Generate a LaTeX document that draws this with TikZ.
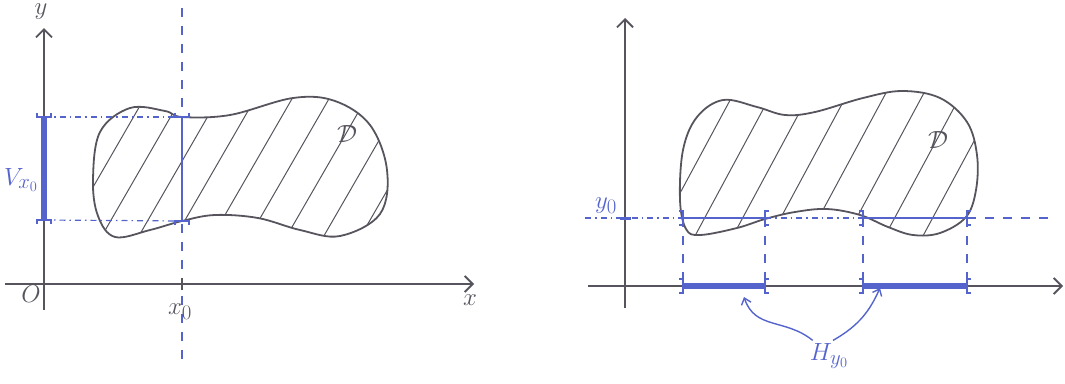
\documentclass[tikz,border=0pt]{standalone}
\usetikzlibrary{arrows.meta}
\definecolor{pen}{RGB}{88,84,94}
\definecolor{ink}{RGB}{85,100,205}
\begin{document}
\begin{tikzpicture}[x=1pt,y=-1pt,
  axis/.style={draw=pen,line width=1.8pt,-{Straight Barb[length=8pt,width=16pt,line width=1.8pt]}},
  outline/.style={draw=pen,line width=1.8pt},
  hatch/.style={draw=pen,line width=1pt},
  dashdot/.style={draw=ink,line width=1.2pt,dash pattern=on 6pt off 4pt on 1.5pt off 4pt},
  bluedash/.style={draw=ink,line width=1.4pt,dash pattern=on 9pt off 9pt},
  bluesolid/.style={draw=ink,line width=1.8pt},
  bluethick/.style={draw=ink,line width=5.5pt},
  lbl/.style={inner sep=1pt,text=pen,font=\fontsize{28}{30}\selectfont},
  blbl/.style={inner sep=1pt,text=ink,font=\fontsize{28}{30}\selectfont},
  curved/.style={draw=ink,line width=1.4pt,-{Straight Barb[length=6pt,width=10pt,line width=1.4pt]}},
  bR/.pic={\draw[ink,line width=1.5pt] (-4,-7) -- (0,-7) -- (0,7) -- (-4,7);},
  bL/.pic={\draw[ink,line width=1.5pt] (4,-7) -- (0,-7) -- (0,7) -- (4,7);},
  bU/.pic={\draw[ink,line width=1.5pt] (-7,-4) -- (-7,0) -- (7,0) -- (7,-4);},
  bD/.pic={\draw[ink,line width=1.5pt] (-7,4) -- (-7,0) -- (7,0) -- (7,4);}
]
\useasboundingbox (0,0) rectangle (1065,383);

% ================= LEFT =================
\def\shapeA{plot[smooth cycle,tension=0.6] coordinates {
 (182,117) (230,115) (293,98) (335,101) (370,125) (387,170) (380,214) (340,236)
 (300,230) (258,218) (215,215) (182,221) (150,230) (115,237) (98,216) (93,180)
 (100,132) (130,108) (165,111)}}
\begin{scope}
  \clip \shapeA;
  \foreach \i in {-60,-23,...,420} \draw[hatch] (\i,260) -- (\i+150,0);
\end{scope}
\draw[outline] \shapeA;

\coordinate (ly0) at (44,310);
\coordinate (ly1) at (44,28);
\coordinate (lx0) at (5,284);
\coordinate (lx1) at (474,284);
\draw[axis] (ly0) -- (ly1);
\draw[axis] (lx0) -- (lx1);
\node[lbl,anchor=north,inner sep=0pt,font=\fontsize{26}{28}\selectfont] (ylab) at (41,4) {$y$};
\node[lbl] (xlab) at (470,300) {$x$};
\node[lbl] (olab) at (31,294) {$O$};

\coordinate (xt) at (182,8);
\coordinate (xb) at (182,362);
\draw[bluedash] (xt) -- (xb);
\coordinate (tk0) at (182,278);
\coordinate (tk1) at (182,290);
\draw[pen,line width=2pt] (tk0) -- (tk1);
\node[lbl] (x0lab) at (180,312) {$x_0$};

\coordinate (va) at (44,117);
\coordinate (vb) at (44,220);
\coordinate (wa) at (182,117);
\coordinate (wb) at (182,221);
\draw[dashdot] (va) -- (wa);
\draw[dashdot] (vb) -- (wb);
\draw[bluethick] (va) -- (vb);
\draw[bluesolid] (wa) -- (wb);
\pic at (va) {bU};
\pic at (vb) {bD};
\pic at (wa) {bU};
\pic at (wb) {bD};
\node[blbl] (vlab) at (21,180) {$V_{x_0}$};
\node[lbl] (dA) at (347,134) {$\mathcal{D}$};

% ================= RIGHT =================
\def\shapeB{plot[smooth cycle,tension=0.6] coordinates {
 (680,200) (683,150) (697,117) (723,100) (757,107) (785,115) (815,112) (863,98)
 (902,91) (940,98) (967,122) (977,155) (976,190) (966,217) (940,233) (913,235)
 (888,227) (860,215) (827,209) (795,212) (765,219) (737,228) (700,235) (686,229)}}
\begin{scope}
  \clip \shapeB;
  \foreach \i in {530,568,...,1000} \draw[hatch] (\i,260) -- (\i+140,0);
\end{scope}
\draw[outline] \shapeB;

\coordinate (ry0) at (625,308);
\coordinate (ry1) at (625,18);
\coordinate (rx0) at (588,286);
\coordinate (rx1) at (1063,286);
\draw[axis] (ry0) -- (ry1);
\draw[axis] (rx0) -- (rx1);

\coordinate (h0) at (585,218);
\coordinate (p1) at (683,218);
\coordinate (p2) at (765,218);
\coordinate (p3) at (863,218);
\coordinate (p4) at (967,218);
\coordinate (h5) at (1050,218);
\coordinate (q1) at (683,286);
\coordinate (q2) at (765,286);
\coordinate (q3) at (863,286);
\coordinate (q4) at (967,286);
\draw[dashdot] (h0) -- (p1);
\draw[dashdot] (p2) -- (p3);
\draw[bluedash] (p4) -- (h5);
\draw[bluesolid] (p1) -- (p2);
\draw[bluesolid] (p3) -- (p4);
\draw[bluedash] (p1) -- (q1);
\draw[bluedash] (p2) -- (q2);
\draw[bluedash] (p3) -- (q3);
\draw[bluedash] (p4) -- (q4);
\draw[bluethick] (q1) -- (q2);
\draw[bluethick] (q3) -- (q4);
\foreach \p in {p1,p3,q1,q3} \pic at (\p) {bR};
\foreach \p in {p2,p4,q2,q4} \pic at (\p) {bL};
\coordinate (yt0) at (620,218);
\coordinate (yt1) at (631,218);
\draw[ink,line width=3pt] (yt0) -- (yt1);
\node[blbl] (y0lab) at (606,206) {$y_0$};
\node[lbl] (dB) at (938,140) {$\mathcal{D}$};

\node[blbl] (hlab) at (829,356) {$H_{y_0}$};
\coordinate (t1) at (744,297);
\coordinate (t2) at (880,288);
\draw[curved] ([xshift=4pt,yshift=2pt]hlab.north west) .. controls (785,318) and (755,330) .. (t1);
\draw[curved] ([xshift=4pt,yshift=2pt]hlab.north) .. controls (860,325) and (870,310) .. (t2);
\end{tikzpicture}
\end{document}
